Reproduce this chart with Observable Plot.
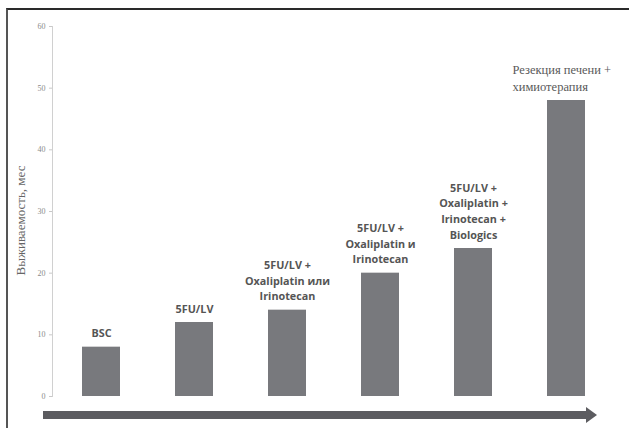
<!DOCTYPE html>
<html><head><meta charset="utf-8">
<script src="https://cdn.jsdelivr.net/npm/d3@7"></script>
<script src="https://cdn.jsdelivr.net/npm/@observablehq/plot@0.6"></script>
<style>
body{margin:0;background:#fff}
#wrap{position:relative;width:629px;height:428px;overflow:hidden;background:#fff}
#wrap > svg{position:absolute;left:0;top:0}
#border{position:absolute;left:6px;top:8px;right:-10px;bottom:-10px;border-top:2px solid #2a2a2a;border-left:2px solid #555;}
</style></head>
<body><div id="wrap"><div id="border"></div>
<svg id="arrow" width="629" height="428"><path d="M43,411 H586 V407 L597,415 L586,423 V419 H43 Z" fill="#5c5c60"/></svg>
</div>
<script>
const categories = ["BSC", "5FU/LV", "5FU/LV + Oxaliplatin или Irinotecan", "5FU/LV + Oxaliplatin и Irinotecan", "5FU/LV + Oxaliplatin + Irinotecan + Biologics", "Резекция печени + химиотерапия"];
const values = [8, 12, 14, 20, 24, 48];
const labels = ["BSC", "5FU/LV", "5FU/LV +\nOxaliplatin или\nIrinotecan", "5FU/LV +\nOxaliplatin и\nIrinotecan", "5FU/LV +\nOxaliplatin +\nIrinotecan +\nBiologics", "Резекция печени +\nхимиотерапия"];
const yTicks = [0, 10, 20, 30, 40, 50, 60];
const yLabel = "Выживаемость, мес";

const data = categories.map((c, i) => ({cat: c, value: values[i], label: labels[i], serif: i === categories.length - 1}));

const chart = Plot.plot({
  width: 629,
  height: 428,
  marginLeft: 52,
  marginRight: 15,
  marginTop: 26,
  marginBottom: 32,
  style: {background: "transparent", overflow: "visible"},
  x: {type: "band", domain: categories, paddingInner: 0.594, paddingOuter: 0.299, axis: null},
  y: {domain: [0, 60], ticks: yTicks},
  marks: [
    Plot.frame({anchor: "left", stroke: "#d0d0d0"}),
    Plot.axisY({ticks: yTicks, tickSize: 3, tickPadding: 4, stroke: "#c8c8c8", fill: "#8a8a8a", fontSize: 8, fontFamily: "Liberation Serif", label: null}),
    Plot.barY(data, {x: "cat", y: "value", fill: "#78797d"}),
    Plot.text(data.filter(d => !d.serif), {x: "cat", y: "value", text: "label", lineAnchor: "bottom", dy: -10, fontSize: 10.8, fontWeight: "bold", fontFamily: "Open Sans", fill: "#555", lineHeight: 1.45}),
    Plot.text(data.filter(d => d.serif), {x: "cat", y: "value", text: "label", lineAnchor: "bottom", textAnchor: "start", dx: -54, dy: -10, fontSize: 12.5, fontFamily: "Liberation Serif", fill: "#5a5a5a", lineHeight: 1.3}),
    Plot.text([yLabel], {frameAnchor: "left", textAnchor: "middle", rotate: -90, dx: -32, dy: 9, fontSize: 13, fontFamily: "Liberation Serif", fill: "#666"})
  ]
});
document.getElementById("wrap").insertBefore(chart, document.getElementById("arrow"));
</script>
</body></html>
